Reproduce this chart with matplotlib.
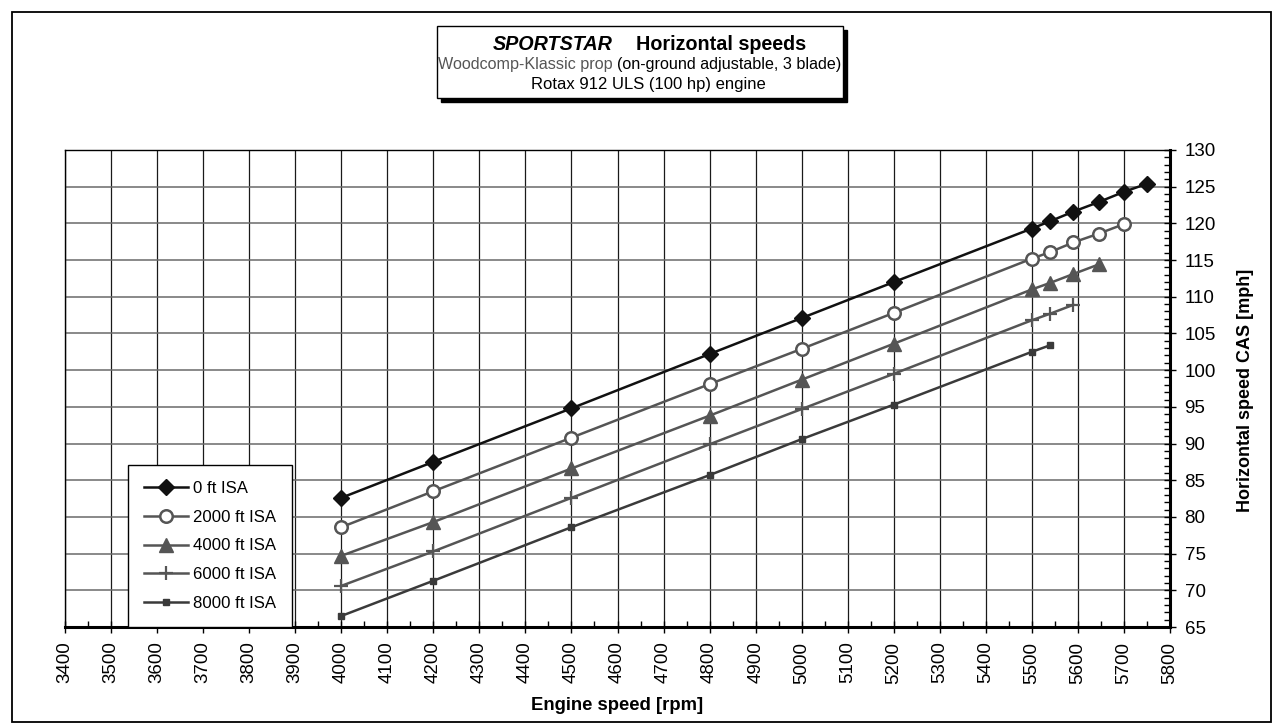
import matplotlib
matplotlib.use("Agg")
import matplotlib.pyplot as plt
from matplotlib.patches import Rectangle
from matplotlib.ticker import MultipleLocator

plt.rcParams['font.family'] = ['Liberation Sans', 'DejaVu Sans']

# ---- data ----
rpm_0 = [4000, 4200, 4500, 4800, 5000, 5200, 5500, 5540, 5590, 5645, 5700, 5750]
spd_0 = [82.6, 87.5, 94.8, 102.2, 107.1, 112.0, 119.3, 120.3, 121.6, 122.9, 124.3, 125.4]

rpm_2000 = [4000, 4200, 4500, 4800, 5000, 5200, 5500, 5540, 5590, 5645, 5700]
spd_2000 = [78.6, 83.5, 90.8, 98.1, 102.9, 107.8, 115.2, 116.1, 117.4, 118.6, 119.9]

rpm_4000 = [4000, 4200, 4500, 4800, 5000, 5200, 5500, 5540, 5590, 5645]
spd_4000 = [74.7, 79.3, 86.6, 93.8, 98.7, 103.6, 111.0, 111.9, 113.1, 114.4]

rpm_6000 = [4000, 4200, 4500, 4800, 5000, 5200, 5500, 5540, 5590]
spd_6000 = [70.6, 75.3, 82.6, 89.9, 94.7, 99.5, 106.8, 107.7, 108.9]

rpm_8000 = [4000, 4200, 4500, 4800, 5000, 5200, 5500, 5540]
spd_8000 = [66.5, 71.3, 78.6, 85.7, 90.6, 95.3, 102.5, 103.4]

series_labels = ["0 ft ISA", "2000 ft ISA", "4000 ft ISA", "6000 ft ISA", "8000 ft ISA"]
x_ticks = list(range(3400, 5801, 100))
y_ticks = list(range(65, 131, 5))

W, H = 1277, 728
def fx(x): return x / W
def fy(y): return 1 - y / H

fig = plt.figure(figsize=(W / 100, H / 100), dpi=100)
fig.patch.set_facecolor('white')

# outer frame
fig.patches.append(Rectangle((fx(12), fy(722)), fx(1271) - fx(12), fy(12) - fy(722),
                             transform=fig.transFigure, fill=False, edgecolor='black', lw=1.3))

ax = fig.add_axes([fx(65), fy(627), fx(1170) - fx(65), fy(150) - fy(627)])

styles = [
    dict(color='#111111', marker='D', ms=8, mfc='#111111', mec='#111111', lw=1.8),
    dict(color='#555555', marker='o', ms=9, mfc='white', mec='#555555', mew=1.8, lw=1.8),
    dict(color='#555555', marker='^', ms=10, mfc='#555555', mec='#555555', lw=1.8),
    dict(color='#555555', marker='+', ms=10, mew=1.6, lw=1.8),
    dict(color='#3a3a3a', marker='s', ms=4.5, mfc='#3a3a3a', mec='#3a3a3a', lw=1.8),
]
data = [(rpm_0, spd_0), (rpm_2000, spd_2000), (rpm_4000, spd_4000),
        (rpm_6000, spd_6000), (rpm_8000, spd_8000)]
for (xr, yr), st, lab in zip(data, styles, series_labels):
    ax.plot(xr, yr, label=lab, zorder=3, **st)

ax.set_xlim(3400, 5800)
ax.set_ylim(65, 130)
ax.set_xticks(x_ticks)
ax.set_xticklabels([str(t) for t in x_ticks], rotation=90, fontsize=13.5)
ax.xaxis.set_minor_locator(MultipleLocator(50))
ax.yaxis.tick_right()
ax.set_yticks(y_ticks)
ax.set_yticklabels([str(t) for t in y_ticks], fontsize=13.5)
ax.yaxis.set_minor_locator(MultipleLocator(1))

ax.tick_params(axis='x', which='major', direction='inout', length=9, width=1, pad=6, colors='black')
ax.tick_params(axis='x', which='minor', direction='in', length=4, width=1)
ax.tick_params(axis='y', which='major', direction='inout', length=9, width=1, pad=6, right=True, left=False)
ax.tick_params(axis='y', which='minor', direction='in', length=4, width=1, right=True, left=False)

ax.set_axisbelow(True)
ax.grid(axis='x', which='major', color='#1a1a1a', lw=0.9)
ax.grid(axis='y', which='major', color='#6a6a6a', lw=1.1)

for s in ['bottom', 'right']:
    ax.spines[s].set_linewidth(2.2)
for s in ['top', 'left']:
    ax.spines[s].set_linewidth(1.0)

leg = ax.legend(loc='lower left', bbox_to_anchor=((128 - 65) / 1105, 0), borderaxespad=0,
                fontsize=12.1, handlelength=2.6, handletextpad=0.3, labelspacing=0.82,
                fancybox=False, framealpha=1, edgecolor='black', borderpad=0.95)
leg.get_frame().set_linewidth(1.0)

# axis labels
fig.text(fx(617), fy(706), "Engine speed [rpm]", ha='center', va='center',
         fontsize=13.3, fontweight='bold')
fig.text(fx(1245), fy(390), "Horizontal speed CAS [mph]", ha='center', va='center',
         rotation=90, fontsize=13, fontweight='bold')

# title box with shadow
fig.patches.append(Rectangle((fx(441), fy(102)), fx(847) - fx(441), fy(30) - fy(102),
                             transform=fig.transFigure, facecolor='black', edgecolor='black'))
fig.patches.append(Rectangle((fx(437), fy(98)), fx(843) - fx(437), fy(26) - fy(98),
                             transform=fig.transFigure, facecolor='white', edgecolor='black', lw=1.0))

fig.text(fx(613), fy(45), "SPORTSTAR", ha='right', va='center', fontsize=14.2,
         fontweight='bold', style='italic')
fig.text(fx(636), fy(45), "Horizontal speeds", ha='left', va='center', fontsize=14.2,
         fontweight='bold')
fig.text(fx(613), fy(65), "Woodcomp-Klassic prop", ha='right', va='center', fontsize=11.6,
         color='#555555')
fig.text(fx(617), fy(65), "(on-ground adjustable, 3 blade)", ha='left', va='center', fontsize=11.6,
         color='black')
fig.text(fx(648), fy(84), "Rotax 912 ULS (100 hp) engine", ha='center', va='center', fontsize=12)

fig.savefig("out.png", dpi=100, facecolor='white')
